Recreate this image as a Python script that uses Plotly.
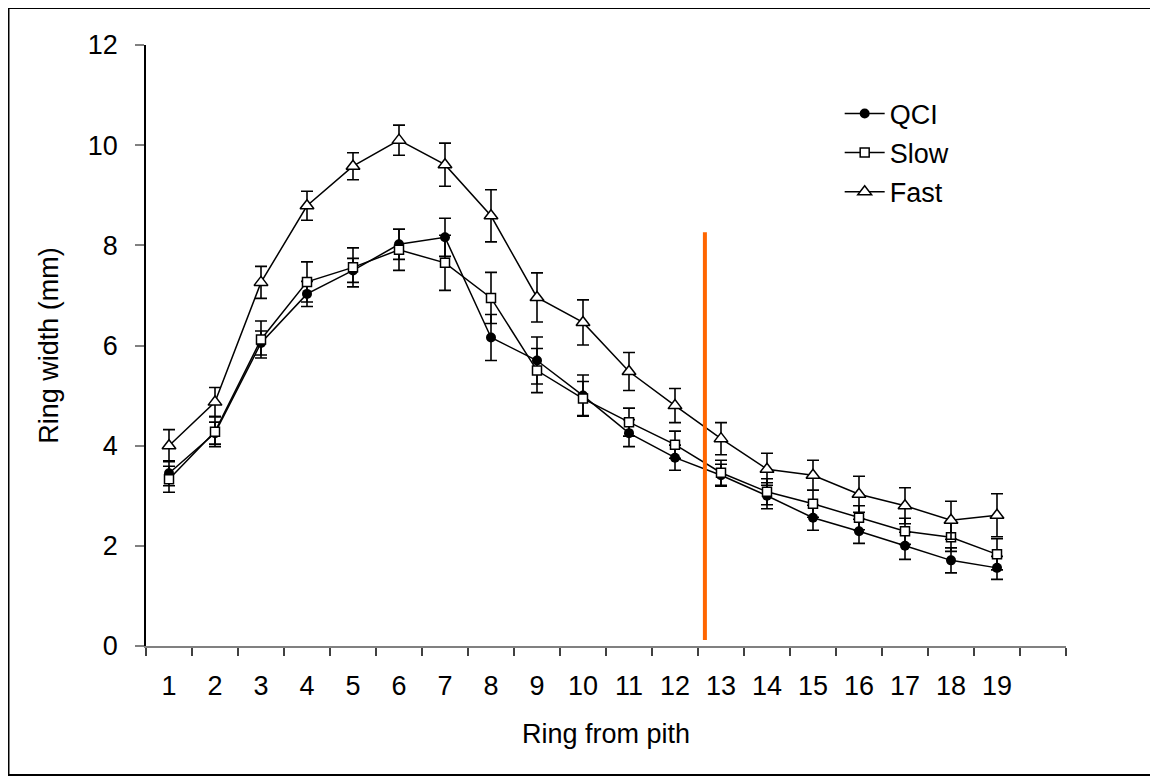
import plotly.graph_objects as go

rings = list(range(1, 20))
tick_labels = [str(r) for r in rings]

qci = [3.45, 4.25, 6.05, 7.03, 7.5, 8.02, 8.16, 6.16, 5.70, 5.00, 4.25, 3.76, 3.41, 3.00, 2.56, 2.29, 2.00, 1.71, 1.56]
qci_err = [0.25, 0.22, 0.24, 0.25, 0.24, 0.30, 0.38, 0.46, 0.47, 0.41, 0.27, 0.25, 0.22, 0.26, 0.25, 0.24, 0.27, 0.25, 0.23]

slow = [3.33, 4.28, 6.12, 7.27, 7.56, 7.91, 7.65, 6.95, 5.50, 4.94, 4.47, 4.02, 3.46, 3.08, 2.84, 2.56, 2.29, 2.17, 1.83]
slow_err = [0.26, 0.30, 0.37, 0.40, 0.39, 0.41, 0.55, 0.51, 0.44, 0.34, 0.28, 0.27, 0.25, 0.26, 0.27, 0.24, 0.26, 0.28, 0.31]

fast = [4.00, 4.87, 7.26, 8.79, 9.58, 10.10, 9.61, 8.59, 6.96, 6.46, 5.48, 4.80, 4.14, 3.53, 3.41, 3.03, 2.80, 2.51, 2.61]
fast_err = [0.32, 0.29, 0.32, 0.29, 0.27, 0.30, 0.43, 0.52, 0.49, 0.45, 0.38, 0.34, 0.32, 0.32, 0.30, 0.36, 0.36, 0.38, 0.43]

marker_x = 12.65
marker_y = [0.12, 8.26]

FONT = "Liberation Sans, Arial, sans-serif"
FS = 27

def err(a):
    return dict(type="data", array=a, visible=True, color="black", thickness=1.6, width=6)

fig = go.Figure()
fig.add_trace(go.Scatter(x=rings, y=qci, name="QCI", mode="lines+markers", legendgroup="a",
                         line=dict(color="black", width=1.5),
                         marker=dict(symbol="circle", size=10, color="black"),
                         error_y=err(qci_err)))
fig.add_trace(go.Scatter(x=rings, y=slow, name="Slow", mode="lines+markers", legendgroup="b",
                         line=dict(color="black", width=1.5),
                         marker=dict(symbol="square", size=9, color="white",
                                     line=dict(color="black", width=1.5)),
                         error_y=err(slow_err)))
fig.add_trace(go.Scatter(x=rings, y=fast, name="Fast", mode="lines+markers", legendgroup="c",
                         line=dict(color="black", width=1.5),
                         marker=dict(symbol="triangle-up", size=12, color="white",
                                     line=dict(color="black", width=1.5)),
                         error_y=err(fast_err)))

fig.add_shape(type="line", x0=marker_x, x1=marker_x, y0=marker_y[0], y1=marker_y[1],
              xref="x", yref="y", line=dict(color="#FF6600", width=4))

# page has an 8px body margin; figure coords = page coords - 8
W, H = 1150, 773
L, R, T, B = 138, 1058, 37, 638
pw, ph = R - L, B - T
fig.add_shape(type="rect", xref="paper", yref="paper",
              x0=(0.5 - L) / pw, x1=(1143 - L) / pw,
              y0=(B - 767) / ph, y1=(B - 0) / ph,
              line=dict(color="black", width=2), fillcolor="rgba(0,0,0,0)")

fig.update_layout(
    width=W, height=H,
    margin=dict(l=L, r=W - R, t=T, b=H - B),
    paper_bgcolor="white", plot_bgcolor="white",
    font=dict(family=FONT, size=FS, color="black"),
    showlegend=True,
    legend=dict(x=0.754, y=0.926, xanchor="left", yanchor="top",
                bgcolor="rgba(0,0,0,0)", font=dict(size=FS),
                itemwidth=40, tracegroupgap=1),
)
fig.update_xaxes(range=[0.5, 20.5], tickmode="array", tickvals=rings, ticktext=tick_labels,
                 ticks="", showgrid=False, zeroline=False,
                 showline=True, linecolor="#808080", linewidth=1.5,
                 ticklabelstandoff=15,
                 minor=dict(tickmode="linear", tick0=0.5, dtick=1, ticks="outside",
                            ticklen=8, tickcolor="#404040", tickwidth=1.5, showgrid=False),
                 title=dict(text="Ring from pith", font=dict(size=FS), standoff=24))
fig.update_yaxes(range=[0, 12], tickvals=[0, 2, 4, 6, 8, 10, 12], ticks="outside", ticklen=9,
                 tickcolor="#808080", tickwidth=1.5, showgrid=False, zeroline=False,
                 showline=True, linecolor="black", linewidth=1.5,
                 ticklabelstandoff=12,
                 title=dict(text="Ring width (mm)", font=dict(size=FS), standoff=21))

fig.write_html("out.html")
